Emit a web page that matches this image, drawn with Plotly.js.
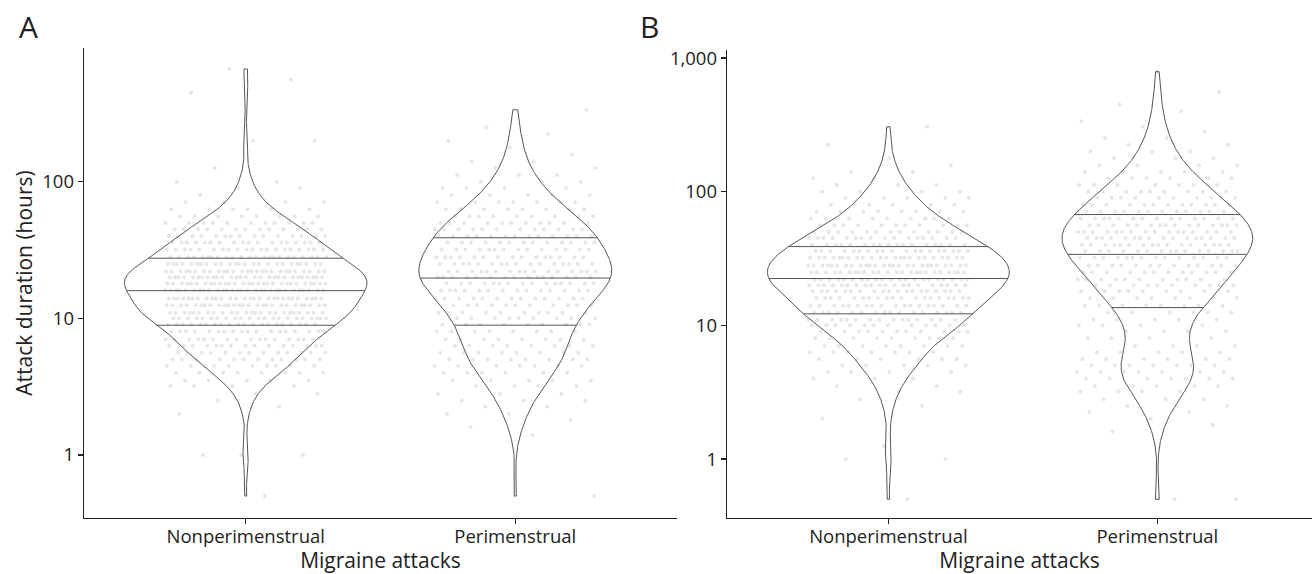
<!DOCTYPE html>
<html>
<head>
<meta charset="utf-8">
<script src="https://cdn.plot.ly/plotly-3.0.1.min.js"></script>
<style>html,body{margin:0;padding:0;background:#fff}#chart{width:1312px;height:574px}</style>
</head>
<body>
<div id="chart"></div>
<script>
// ---- data (frequency tables) ----
const categories = ['Nonperimenstrual', 'Perimenstrual'];
const panelLabels = ['A', 'B'];
const xTitle = 'Migraine attacks';
const yTitle = 'Attack duration (hours)';

// attack durations (hours)
const durations = [0.5, 1, 1.25, 1.4, 1.6, 1.8, 2, 2.25, 2.5, 2.8, 3.2, 3.5, 4, 4.5, 5, 5.6, 6.3, 7, 8, 9,
  10, 11, 12.5, 14, 16, 18, 20, 22, 25, 28, 32, 36, 40, 45, 50, 56, 63, 71, 80, 90,
  100, 112, 126, 141, 158, 178, 200, 224, 251, 282, 306, 337, 400, 450, 560, 670, 790];

// number of attacks at each duration
const countsA_non = [1,3,0,0,0,0, 1,1,1,2, 4,5,8,10,12, 13,15,16,18,20, 22,24,27,28,29, 29,28,27,25,23,
  20,18,15,13,11, 8,6,4,2,2, 2,0,1,0,0, 0,2,0,0,0, 0,0,0,1,1, 1,0];
const countsA_peri = [1,0,0,1,1,1, 2,2,3,3, 4,5,6,7,8, 8,8,8,8,9, 9,10,11,13,14, 15,15,16,16,15,
  14,13,13,12,11, 9,8,7,5,4, 3,3,2,2,1, 1,1,1,1,0, 0,1,0,0,0, 0,0];
const countsB_non = [1,2,1,0,0,0, 1,0,1,1, 2,2,3,4,5, 6,7,8,9,11, 12,15,16,18,19, 19,20,21,24,26,
  23,19,17,16,13, 11,9,8,6,5, 4,3,2,2,1, 1,0,1,0,0, 1,0,0,0,0, 0,0];
const countsB_peri = [2,0,0,0,1,1, 1,2,2,3, 4,5,7,7,7, 6,5,4,4,4, 4,5,6,8,8, 9,10,11,12,13,
  14,15,16,16,16, 15,14,13,12,10, 9,7,6,5,4, 3,3,2,2,1, 1,1,1,1,1, 0,1];

const yTickValsA = [1, 10, 100];
const yTickTextA = ['1', '10', '100'];
const yTickValsB = [1, 10, 100, 1000];
const yTickTextB = ['1', '10', '100', '1,000'];
const quantileProbs = [0.25, 0.5, 0.75];

// ---- helpers ----
function expand(counts) {
  const v = [];
  counts.forEach((c, i) => { for (let k = 0; k < c; k++) v.push(durations[i]); });
  return v;
}
function q7(s, p) {
  const h = (s.length - 1) * p, lo = Math.floor(h), hi = Math.min(lo + 1, s.length - 1);
  return s[lo] + (h - lo) * (s[hi] - s[lo]);
}
function nrd0(x) {
  const n = x.length, m = x.reduce((a, b) => a + b, 0) / n;
  const sd = Math.sqrt(x.reduce((a, b) => a + (b - m) * (b - m), 0) / (n - 1));
  const s = x.slice().sort((a, b) => a - b);
  const iqr = q7(s, 0.75) - q7(s, 0.25);
  let lo = Math.min(sd, iqr / 1.34);
  if (!(lo > 0)) lo = sd || 1;
  return 0.9 * lo * Math.pow(n, -0.2);
}
function kde(vals) {
  const L = vals.map(v => Math.log10(v));
  const bw = nrd0(L);
  const mn = Math.min(...L), mx = Math.max(...L), N = 512;
  const g = [], d = [];
  for (let i = 0; i < N; i++) {
    const t = mn + (mx - mn) * i / (N - 1);
    let s = 0;
    for (const l of L) { const z = (t - l) / bw; s += Math.exp(-0.5 * z * z); }
    g.push(t); d.push(s / (L.length * bw * Math.sqrt(2 * Math.PI)));
  }
  return { g, d };
}
function interp(xs, ys, x) {
  if (x <= xs[0]) return ys[0];
  for (let i = 1; i < xs.length; i++) {
    if (xs[i] >= x) {
      const f = (x - xs[i - 1]) / (xs[i] - xs[i - 1] || 1);
      return ys[i - 1] + f * (ys[i] - ys[i - 1]);
    }
  }
  return ys[ys.length - 1];
}

const traces = [];
function panel(countSets, xa, ya) {
  const dens = countSets.map(c => kde(expand(c)));
  const gmax = Math.max(...dens.map(k => Math.max(...k.d)));
  // jittered points
  countSets.forEach((c, gi) => {
    const vals = expand(c);
    const xs = vals.map((v, k) => gi + (((k + 1) * 0.6180339887 + gi * 0.37) % 1 - 0.5) * 0.6);
    traces.push({ type: 'scatter', mode: 'markers', x: xs, y: vals, xaxis: xa, yaxis: ya,
      marker: { color: '#e6e6e6', size: 4 }, hoverinfo: 'skip', showlegend: false });
  });
  dens.forEach((k, gi) => {
    const hw = k.d.map(v => 0.45 * v / gmax);
    const x = [], y = [];
    for (let i = 0; i < k.g.length; i++) { x.push(gi - hw[i]); y.push(Math.pow(10, k.g[i])); }
    for (let i = k.g.length - 1; i >= 0; i--) { x.push(gi + hw[i]); y.push(Math.pow(10, k.g[i])); }
    x.push(x[0]); y.push(y[0]);
    traces.push({ type: 'scatter', mode: 'lines', x, y, xaxis: xa, yaxis: ya,
      line: { color: '#555555', width: 1 }, hoverinfo: 'skip', showlegend: false });
    // quantile segments from the density
    const tot = k.d.reduce((a, b) => a + b, 0);
    let acc = 0; const cum = k.d.map(v => (acc += v) / tot);
    const qx = [], qy = [];
    quantileProbs.forEach(p => {
      const lq = interp(cum, k.g, p);
      const w = interp(k.g, hw, lq);
      qx.push(gi - w, gi + w, null);
      qy.push(Math.pow(10, lq), Math.pow(10, lq), null);
    });
    traces.push({ type: 'scatter', mode: 'lines', x: qx, y: qy, xaxis: xa, yaxis: ya,
      line: { color: '#555555', width: 1 }, hoverinfo: 'skip', showlegend: false });
  });
}
panel([countsA_non, countsA_peri], 'x', 'y');
panel([countsB_non, countsB_peri], 'x2', 'y2');

const W = 1312, H = 574;
const font = { family: '"Open Sans", "DejaVu Sans", sans-serif', color: '#222' };
function xAxis(dom, rng, anchor) {
  return { domain: dom, range: rng, anchor, tickvals: [0, 1], ticktext: categories,
    ticks: 'outside', ticklen: 5, tickwidth: 1.2, tickcolor: '#222', ticklabelstandoff: -4,
    showline: true, linecolor: '#222', linewidth: 1.3, showgrid: false, zeroline: false,
    tickfont: { size: 18.5 }, title: { text: xTitle, font: { size: 21 }, standoff: 12 } };
}
function yAxis(dom, rng, anchor, tv, tt) {
  return { type: 'log', domain: dom, range: rng, anchor, tickvals: tv, ticktext: tt,
    ticks: 'outside', ticklen: 5, tickwidth: 1.2, tickcolor: '#222',
    showline: true, linecolor: '#222', linewidth: 1.3, showgrid: false, zeroline: false,
    tickfont: { size: 18.5 } };
}
const layout = {
  width: W, height: H, margin: { l: 0, r: 0, t: 0, b: 0 },
  paper_bgcolor: '#fff', plot_bgcolor: '#fff', font, showlegend: false,
  xaxis: xAxis([84 / W, 677 / W], [-0.6, 1.6], 'y'),
  yaxis: Object.assign(yAxis([(H - 518) / H, (H - 48) / H], [-0.462, 2.98], 'x', yTickValsA, yTickTextA),
    { title: { text: yTitle, font: { size: 21 }, standoff: 4 } }),
  xaxis2: xAxis([727 / W, 1], [-0.6, 1.575], 'y2'),
  yaxis2: yAxis([(H - 518) / H, (H - 50) / H], [-0.441, 3.06], 'x2', yTickValsB, yTickTextB),
  annotations: [
    { text: panelLabels[0], xref: 'paper', yref: 'paper', x: 17 / W, y: 1 - 27 / H, xanchor: 'left', yanchor: 'middle', showarrow: false, font: { size: 30, color: '#222' } },
    { text: panelLabels[1], xref: 'paper', yref: 'paper', x: 638 / W, y: 1 - 27 / H, xanchor: 'left', yanchor: 'middle', showarrow: false, font: { size: 30, color: '#222' } }
  ]
};
Plotly.newPlot('chart', traces, layout, { displayModeBar: false, staticPlot: true });
</script>
</body>
</html>
